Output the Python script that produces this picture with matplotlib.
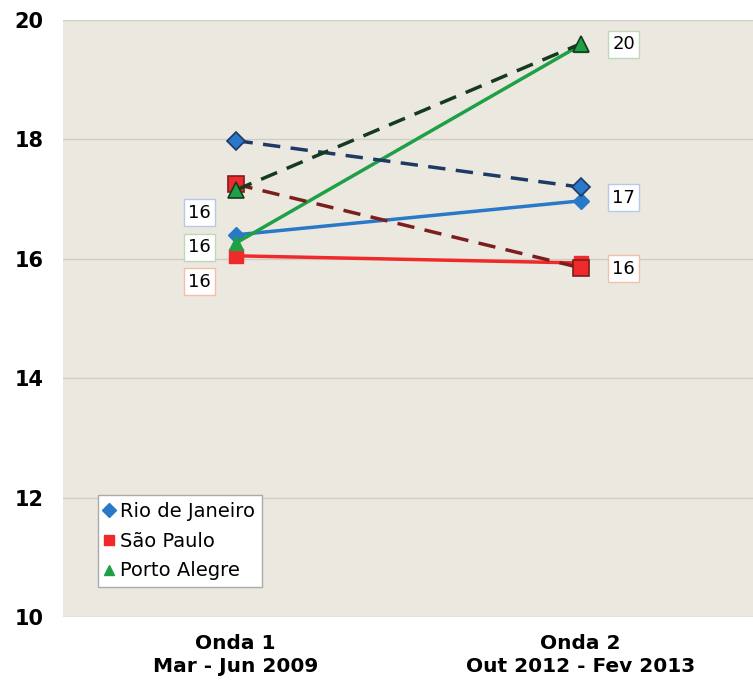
import matplotlib.pyplot as plt

categories = ["Onda 1\nMar - Jun 2009", "Onda 2\nOut 2012 - Fev 2013"]
cities = ["Rio de Janeiro", "São Paulo", "Porto Alegre"]

# solid lines (labelled) and dashed comparison lines
solid_values = {
    "Rio de Janeiro": [16.40, 16.97],
    "São Paulo": [16.05, 15.93],
    "Porto Alegre": [16.26, 19.58],
}
dashed_values = {
    "Rio de Janeiro": [17.98, 17.20],
    "São Paulo": [17.25, 15.85],
    "Porto Alegre": [17.15, 19.60],
}

colors = {"Rio de Janeiro": "#2a78c8", "São Paulo": "#f02a2a", "Porto Alegre": "#1fa046"}
dark = {"Rio de Janeiro": "#1e3a64", "São Paulo": "#7a1e1e", "Porto Alegre": "#163a1e"}
markers = {"Rio de Janeiro": "D", "São Paulo": "s", "Porto Alegre": "^"}
msizes = {"Rio de Janeiro": 8, "São Paulo": 10, "Porto Alegre": 10}
label_edges = {"Rio de Janeiro": "#b8c8e8", "São Paulo": "#f0c0a8", "Porto Alegre": "#c0d8b8"}
left_offsets = {"Rio de Janeiro": 22, "São Paulo": -26, "Porto Alegre": -4}
right_offsets = {"Rio de Janeiro": 3, "São Paulo": -6, "Porto Alegre": 1}

fig = plt.figure(figsize=(7.53, 6.89), dpi=100)
ax = fig.add_axes([0.0837, 0.1045, 0.9163, 0.8665])
ax.set_facecolor("#ebe8e0")
x = [0, 1]

for city in cities:
    ax.plot(x, solid_values[city], color=colors[city], lw=2.5, marker=markers[city],
            ms=msizes[city], mfc=colors[city], mec=colors[city], zorder=3, label=city)

for city in cities:
    ax.plot(x, dashed_values[city], color=dark[city], lw=2.5, ls=(0, (5, 3)),
            marker=markers[city], ms=msizes[city] + 1, mfc=colors[city], mec=dark[city],
            mew=1.2, zorder=4)

for city in cities:
    v0, v1 = solid_values[city]
    ax.annotate(f"{v0:.0f}", (0, v0), xytext=(-36, left_offsets[city]),
                textcoords="offset pixels", ha="center", va="center", fontsize=13,
                bbox=dict(boxstyle="square,pad=0.25", fc="white", ec=label_edges[city], lw=1))
    ax.annotate(f"{v1:.0f}", (1, v1), xytext=(43, right_offsets[city]),
                textcoords="offset pixels", ha="center", va="center", fontsize=13,
                bbox=dict(boxstyle="square,pad=0.25", fc="white", ec=label_edges[city], lw=1))

ax.set_xlim(-0.5, 1.5)
ax.set_ylim(10, 20)
ax.set_yticks([10, 12, 14, 16, 18, 20])
ax.set_xticks(x)
ax.set_xticklabels(categories, fontsize=14.5, fontweight="bold", linespacing=1.3)
ax.tick_params(axis="y", labelsize=15, length=0, pad=14)
ax.tick_params(axis="x", length=0, pad=12)
for lbl in ax.get_yticklabels():
    lbl.set_fontweight("bold")
ax.grid(axis="y", color="#d0cdc5", lw=1)
ax.set_axisbelow(True)
for s in ax.spines.values():
    s.set_visible(False)

leg = ax.legend(loc="lower left", bbox_to_anchor=(0.05, 0.05), fontsize=14,
                frameon=True, fancybox=False, edgecolor="#aaaaaa", framealpha=1,
                handlelength=0.5, handletextpad=0.3, borderpad=0.35, labelspacing=0.55,
                borderaxespad=0)
for h in leg.legend_handles:
    h.set_linestyle("None")
    h.set_markersize(7)

fig.savefig("out.png", dpi=100)
